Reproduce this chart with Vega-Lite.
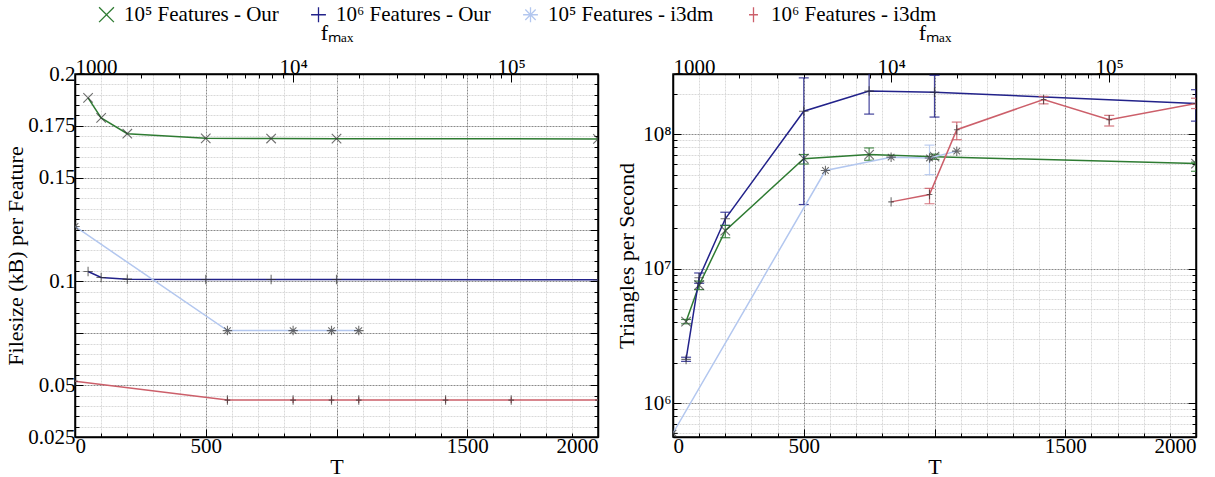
{
  "$schema": "https://vega.github.io/schema/vega-lite/v6.json",
  "background": "white",
  "padding": {"left": 4, "top": 4, "right": 5, "bottom": 0},
  "config": {
    "font": "Liberation Serif",
    "view": {"stroke": "#000", "strokeWidth": 1.5},
    "axis": {
      "labelFont": "Liberation Serif", "titleFont": "Liberation Serif",
      "labelFontSize": 21, "titleFontSize": 22, "titleFontWeight": "normal",
      "labelColor": "#000", "titleColor": "#000", "domainColor": "#000", "tickColor": "#000",
      "domainWidth": 1.5, "tickWidth": 1, "labelOverlap": false, "tickCount": 200
    },
    "legend": {"labelFont": "Liberation Serif", "labelFontSize": 21, "labelColor": "#000"}
  },
  "datasets": {
    "left": [
      {"s": "10⁵ Features - Our", "T": 50, "v": 0.1885},
      {"s": "10⁵ Features - Our", "T": 100, "v": 0.1788},
      {"s": "10⁵ Features - Our", "T": 200, "v": 0.1712},
      {"s": "10⁵ Features - Our", "T": 500, "v": 0.1690},
      {"s": "10⁵ Features - Our", "T": 750, "v": 0.1689},
      {"s": "10⁵ Features - Our", "T": 1000, "v": 0.1688},
      {"s": "10⁵ Features - Our", "T": 2000, "v": 0.1687},
      {"s": "10⁶ Features - Our", "T": 50, "v": 0.1048},
      {"s": "10⁶ Features - Our", "T": 100, "v": 0.1019},
      {"s": "10⁶ Features - Our", "T": 200, "v": 0.1011},
      {"s": "10⁶ Features - Our", "T": 500, "v": 0.1009},
      {"s": "10⁶ Features - Our", "T": 750, "v": 0.1009},
      {"s": "10⁶ Features - Our", "T": 1000, "v": 0.1009},
      {"s": "10⁶ Features - Our", "T": 2000, "v": 0.1008},
      {"s": "10⁵ Features - i3dm", "f": 1000, "v": 0.1265},
      {"s": "10⁵ Features - i3dm", "f": 5000, "v": 0.0763},
      {"s": "10⁵ Features - i3dm", "f": 10000, "v": 0.0763},
      {"s": "10⁵ Features - i3dm", "f": 15000, "v": 0.0763},
      {"s": "10⁵ Features - i3dm", "f": 20000, "v": 0.0763},
      {"s": "10⁶ Features - i3dm", "f": 1000, "v": 0.0519},
      {"s": "10⁶ Features - i3dm", "f": 5000, "v": 0.0428, "lo": 0.0414, "hi": 0.0442},
      {"s": "10⁶ Features - i3dm", "f": 10000, "v": 0.0428, "lo": 0.0414, "hi": 0.0442},
      {"s": "10⁶ Features - i3dm", "f": 15000, "v": 0.0428, "lo": 0.0414, "hi": 0.0442},
      {"s": "10⁶ Features - i3dm", "f": 20000, "v": 0.0428, "lo": 0.0414, "hi": 0.0442},
      {"s": "10⁶ Features - i3dm", "f": 50000, "v": 0.0428, "lo": 0.0414, "hi": 0.0442},
      {"s": "10⁶ Features - i3dm", "f": 100000, "v": 0.0428, "lo": 0.0414, "hi": 0.0442},
      {"s": "10⁶ Features - i3dm", "f": 250000, "v": 0.0428}
    ],
    "right": [
      {"s": "10⁵ Features - Our", "T": 50, "v": 4050000, "lo": 3900000, "hi": 4200000},
      {"s": "10⁵ Features - Our", "T": 100, "v": 7570000, "lo": 7000000, "hi": 8100000},
      {"s": "10⁵ Features - Our", "T": 200, "v": 19200000, "lo": 17000000, "hi": 21000000},
      {"s": "10⁵ Features - Our", "T": 500, "v": 65700000, "lo": 60000000, "hi": 70600000},
      {"s": "10⁵ Features - Our", "T": 750, "v": 70600000, "lo": 64000000, "hi": 79000000},
      {"s": "10⁵ Features - Our", "T": 1000, "v": 68000000, "lo": 65000000, "hi": 71000000},
      {"s": "10⁵ Features - Our", "T": 2000, "v": 60500000, "lo": 53000000, "hi": 62000000},
      {"s": "10⁶ Features - Our", "T": 50, "v": 2120000, "lo": 2050000, "hi": 2200000},
      {"s": "10⁶ Features - Our", "T": 100, "v": 8580000, "lo": 7800000, "hi": 9300000},
      {"s": "10⁶ Features - Our", "T": 200, "v": 23500000, "lo": 21000000, "hi": 26300000},
      {"s": "10⁶ Features - Our", "T": 500, "v": 148000000, "lo": 30000000, "hi": 262000000},
      {"s": "10⁶ Features - Our", "T": 750, "v": 209000000, "lo": 141000000, "hi": 300000000},
      {"s": "10⁶ Features - Our", "T": 1000, "v": 205000000, "lo": 134000000, "hi": 274000000},
      {"s": "10⁶ Features - Our", "T": 2000, "v": 169000000, "lo": 125000000, "hi": 214000000},
      {"s": "10⁵ Features - i3dm", "f": 1000, "v": 600000},
      {"s": "10⁵ Features - i3dm", "f": 5000, "v": 53700000},
      {"s": "10⁵ Features - i3dm", "f": 10000, "v": 67500000},
      {"s": "10⁵ Features - i3dm", "f": 15000, "v": 66600000, "lo": 50000000, "hi": 83000000},
      {"s": "10⁵ Features - i3dm", "f": 20000, "v": 74800000},
      {"s": "10⁶ Features - i3dm", "f": 10000, "v": 31400000},
      {"s": "10⁶ Features - i3dm", "f": 15000, "v": 35600000, "lo": 30400000, "hi": 39500000},
      {"s": "10⁶ Features - i3dm", "f": 20000, "v": 108000000, "lo": 91000000, "hi": 123000000},
      {"s": "10⁶ Features - i3dm", "f": 50000, "v": 181000000, "lo": 168000000, "hi": 191000000},
      {"s": "10⁶ Features - i3dm", "f": 100000, "v": 128000000, "lo": 115000000, "hi": 138000000},
      {"s": "10⁶ Features - i3dm", "f": 250000, "v": 169000000, "lo": 155000000, "hi": 185000000}
    ]
  },
  "bounds": "flush",
  "spacing": 75,
  "resolve": {"scale": {"color": "shared", "shape": "shared"}},
  "hconcat": [
    {
      "width": 523, "height": 363,
      "data": {"name": "left"},
      "resolve": {"scale": {"x": "independent"}, "axis": {"x": "independent", "y": "independent"}},
      "layer": [
        {
          "transform": [{"filter": "isValid(datum.T)"}],
          "layer": [
            {
              "mark": {"type": "line", "strokeWidth": 1.5, "clip": true},
              "encoding": {
                "x": {"field": "T", "type": "quantitative",
                  "scale": {"domain": [0, 2000], "nice": false, "zero": false},
                  "axis": {"orient": "bottom", "title": "T", "labelFlush": true, "labelOverlap": false, "tickCount": 200,
                    "values": [0,100,200,300,400,500,600,700,800,900,1000,1100,1200,1300,1400,1500,1600,1700,1800,1900,2000],
                    "labelExpr": "datum.value == 0 ? '0' : datum.value == 500 ? '500' : datum.value == 1500 ? '1500' : datum.value == 2000 ? '2000' : ''",
                    "grid": true,
                    "gridColor": {"condition": {"test": "datum.value % 500 == 0", "value": "#8a8a8a"}, "value": "#d9d9d9"},
                    "gridDash": [2, 1],
                    "tickSize": {"condition": {"test": "datum.value % 500 == 0", "value": -8}, "value": -4},
                    "labelPadding": 6, "titlePadding": -4}},
                "y": {"field": "v", "type": "quantitative",
                  "scale": {"domain": [0.025, 0.2], "nice": false, "zero": false},
                  "axis": {"orient": "left", "title": "Filesize (kB) per Feature", "labelOverlap": false, "tickCount": 200,
                    "values": [0.025,0.03,0.035,0.04,0.045,0.05,0.055,0.06,0.065,0.07,0.075,0.08,0.085,0.09,0.095,0.1,0.105,0.11,0.115,0.12,0.125,0.13,0.135,0.14,0.145,0.15,0.155,0.16,0.165,0.17,0.175,0.18,0.185,0.19,0.195,0.2],
                    "labelExpr": "abs(datum.value - 0.025) < 0.0001 ? '0.025' : abs(datum.value - 0.05) < 0.0001 ? '0.05' : abs(datum.value - 0.1) < 0.0001 ? '0.1' : abs(datum.value - 0.15) < 0.0001 ? '0.15' : abs(datum.value - 0.175) < 0.0001 ? '0.175' : abs(datum.value - 0.2) < 0.0001 ? '0.2' : ''",
                    "grid": true,
                    "gridColor": {"condition": {"test": "abs(datum.value*40 - round(datum.value*40)) < 0.000001", "value": "#8a8a8a"}, "value": "#d9d9d9"},
                    "gridDash": [2, 1],
                    "tickSize": {"condition": {"test": "abs(datum.value*40 - round(datum.value*40)) < 0.000001", "value": -8}, "value": -4},
                    "labelPadding": 8, "titlePadding": 0}},
                "color": {"field": "s", "type": "nominal",
                  "scale": {"domain": ["10⁵ Features - Our", "10⁶ Features - Our", "10⁵ Features - i3dm", "10⁶ Features - i3dm"],
                    "range": ["#2e7b32", "#22228a", "#b3c7ef", "#cc5f6a"]},
                  "legend": {"title": null, "orient": "none", "direction": "horizontal", "legendX": 21, "legendY": -70,
                    "symbolType": "M-0.6,-1H0.6M0,-1V1M-0.6,1H0.6M-1,0H1", "symbolSize": 220, "symbolStrokeWidth": 1.3,
                    "labelOffset": 7, "columnPadding": 29, "labelLimit": 400}}
              }
            },
            {
              "transform": [{"filter": "isValid(datum.lo)"}],
              "mark": {"type": "rule", "strokeWidth": 1.2, "clip": true},
              "encoding": {"x": {"field": "T", "type": "quantitative"}, "y": {"field": "lo", "type": "quantitative"}, "y2": {"field": "hi"},
                "color": {"field": "s", "type": "nominal", "legend": null}}
            },
            {
              "mark": {"type": "point", "filled": false, "strokeWidth": 1.1, "color": "#333", "size": 90, "clip": true},
              "encoding": {"x": {"field": "T", "type": "quantitative"}, "y": {"field": "v", "type": "quantitative"},
                "shape": {"field": "s", "type": "nominal", "legend": null,
                  "scale": {"domain": ["10⁵ Features - Our", "10⁶ Features - Our", "10⁵ Features - i3dm", "10⁶ Features - i3dm"],
                    "range": ["M-1,-1L1,1M-1,1L1,-1", "M-1,0H1M0,-1V1", "M-1,0H1M0,-1V1M-0.7,-0.7L0.7,0.7M-0.7,0.7L0.7,-0.7", "M-0.6,0H0.6M0,-1V1"]}}}
            }
          ]
        },
        {
          "transform": [{"filter": "isValid(datum.f)"}],
          "layer": [
            {
              "mark": {"type": "line", "strokeWidth": 1.5, "clip": true},
              "encoding": {
                "x": {"field": "f", "type": "quantitative",
                  "scale": {"type": "log", "domain": [1000, 250000], "nice": false},
                  "axis": {"orient": "top", "title": "fₘₐₓ", "labelOverlap": false, "tickCount": 200,
                    "values": [1000,2000,3000,4000,5000,6000,7000,8000,9000,10000,20000,30000,40000,50000,60000,70000,80000,90000,100000,200000],
                    "labelExpr": "datum.value == 1000 ? '1000' : datum.value == 10000 ? '10⁴' : datum.value == 100000 ? '10⁵' : ''",
                    "grid": false,
                    "tickSize": {"condition": {"test": "datum.value == 1000 || datum.value == 10000 || datum.value == 100000", "value": -8}, "value": -4},
                    "labelPadding": 5, "titlePadding": 8}},
                "y": {"field": "v", "type": "quantitative",
                  "axis": {"orient": "right", "title": null, "labels": false, "grid": false, "tickCount": 200,
                    "values": [0.025,0.03,0.035,0.04,0.045,0.05,0.055,0.06,0.065,0.07,0.075,0.08,0.085,0.09,0.095,0.1,0.105,0.11,0.115,0.12,0.125,0.13,0.135,0.14,0.145,0.15,0.155,0.16,0.165,0.17,0.175,0.18,0.185,0.19,0.195,0.2],
                    "tickSize": {"condition": {"test": "abs(datum.value*40 - round(datum.value*40)) < 0.000001", "value": -8}, "value": -4}}},
                "color": {"field": "s", "type": "nominal", "legend": null}
              }
            },
            {
              "transform": [{"filter": "isValid(datum.lo)"}],
              "mark": {"type": "rule", "strokeWidth": 1.2, "clip": true},
              "encoding": {"x": {"field": "f", "type": "quantitative"}, "y": {"field": "lo", "type": "quantitative"}, "y2": {"field": "hi"},
                "color": {"field": "s", "type": "nominal", "legend": null}}
            },
            {
              "mark": {"type": "point", "filled": false, "strokeWidth": 1.1, "color": "#333", "size": 90, "clip": true},
              "encoding": {"x": {"field": "f", "type": "quantitative"}, "y": {"field": "v", "type": "quantitative"},
                "shape": {"field": "s", "type": "nominal", "legend": null}}
            }
          ]
        }
      ]
    },
    {
      "width": 523, "height": 363,
      "data": {"name": "right"},
      "resolve": {"scale": {"x": "independent"}, "axis": {"x": "independent", "y": "independent"}},
      "layer": [
        {
          "transform": [{"filter": "isValid(datum.T)"}],
          "layer": [
            {
              "mark": {"type": "line", "strokeWidth": 1.5, "clip": true},
              "encoding": {
                "x": {"field": "T", "type": "quantitative",
                  "scale": {"domain": [0, 2000], "nice": false, "zero": false},
                  "axis": {"orient": "bottom", "title": "T", "labelFlush": true, "labelOverlap": false, "tickCount": 200,
                    "values": [0,100,200,300,400,500,600,700,800,900,1000,1100,1200,1300,1400,1500,1600,1700,1800,1900,2000],
                    "labelExpr": "datum.value == 0 ? '0' : datum.value == 500 ? '500' : datum.value == 1500 ? '1500' : datum.value == 2000 ? '2000' : ''",
                    "grid": true,
                    "gridColor": {"condition": {"test": "datum.value % 500 == 0", "value": "#8a8a8a"}, "value": "#d9d9d9"},
                    "gridDash": [2, 1],
                    "tickSize": {"condition": {"test": "datum.value % 500 == 0", "value": -8}, "value": -4},
                    "labelPadding": 6, "titlePadding": -4}},
                "y": {"field": "v", "type": "quantitative",
                  "scale": {"type": "log", "domain": [562000, 280000000], "nice": false},
                  "axis": {"orient": "left", "title": "Triangles per Second", "labelOverlap": false, "tickCount": 200,
                    "values": [600000,700000,800000,900000,1000000,2000000,3000000,4000000,5000000,6000000,7000000,8000000,9000000,10000000,20000000,30000000,40000000,50000000,60000000,70000000,80000000,90000000,100000000,200000000],
                    "labelExpr": "datum.value == 1000000 ? '10⁶' : datum.value == 10000000 ? '10⁷' : datum.value == 100000000 ? '10⁸' : ''",
                    "grid": true,
                    "gridColor": {"condition": {"test": "datum.value == 1000000 || datum.value == 10000000 || datum.value == 100000000", "value": "#8a8a8a"}, "value": "#d9d9d9"},
                    "gridDash": [2, 1],
                    "tickSize": {"condition": {"test": "datum.value == 1000000 || datum.value == 10000000 || datum.value == 100000000", "value": -8}, "value": -4},
                    "labelPadding": 10, "titlePadding": 4}},
                "color": {"field": "s", "type": "nominal", "legend": null}
              }
            },
            {
              "transform": [{"filter": "isValid(datum.lo)"}],
              "mark": {"type": "rule", "strokeWidth": 1.2, "opacity": 0.85, "clip": true},
              "encoding": {"x": {"field": "T", "type": "quantitative"}, "y": {"field": "lo", "type": "quantitative"}, "y2": {"field": "hi"},
                "color": {"field": "s", "type": "nominal", "legend": null}}
            },
            {
              "transform": [{"filter": "isValid(datum.lo)"}],
              "mark": {"type": "tick", "orient": "horizontal", "size": 10, "thickness": 1.2, "opacity": 0.85, "clip": true},
              "encoding": {"x": {"field": "T", "type": "quantitative"}, "y": {"field": "lo", "type": "quantitative"},
                "color": {"field": "s", "type": "nominal", "legend": null}}
            },
            {
              "transform": [{"filter": "isValid(datum.hi)"}],
              "mark": {"type": "tick", "orient": "horizontal", "size": 10, "thickness": 1.2, "opacity": 0.85, "clip": true},
              "encoding": {"x": {"field": "T", "type": "quantitative"}, "y": {"field": "hi", "type": "quantitative"},
                "color": {"field": "s", "type": "nominal", "legend": null}}
            },
            {
              "mark": {"type": "point", "filled": false, "strokeWidth": 1.1, "color": "#333", "size": 90, "clip": true},
              "encoding": {"x": {"field": "T", "type": "quantitative"}, "y": {"field": "v", "type": "quantitative"},
                "shape": {"field": "s", "type": "nominal", "legend": null}}
            }
          ]
        },
        {
          "transform": [{"filter": "isValid(datum.f)"}],
          "layer": [
            {
              "mark": {"type": "line", "strokeWidth": 1.5, "clip": true},
              "encoding": {
                "x": {"field": "f", "type": "quantitative",
                  "scale": {"type": "log", "domain": [1000, 250000], "nice": false},
                  "axis": {"orient": "top", "title": "fₘₐₓ", "labelOverlap": false, "tickCount": 200,
                    "values": [1000,2000,3000,4000,5000,6000,7000,8000,9000,10000,20000,30000,40000,50000,60000,70000,80000,90000,100000,200000],
                    "labelExpr": "datum.value == 1000 ? '1000' : datum.value == 10000 ? '10⁴' : datum.value == 100000 ? '10⁵' : ''",
                    "grid": false,
                    "tickSize": {"condition": {"test": "datum.value == 1000 || datum.value == 10000 || datum.value == 100000", "value": -8}, "value": -4},
                    "labelPadding": 5, "titlePadding": 8}},
                "y": {"field": "v", "type": "quantitative",
                  "axis": {"orient": "right", "title": null, "labels": false, "grid": false, "tickCount": 200,
                    "values": [600000,700000,800000,900000,1000000,2000000,3000000,4000000,5000000,6000000,7000000,8000000,9000000,10000000,20000000,30000000,40000000,50000000,60000000,70000000,80000000,90000000,100000000,200000000],
                    "tickSize": {"condition": {"test": "datum.value == 1000000 || datum.value == 10000000 || datum.value == 100000000", "value": -8}, "value": -4}}},
                "color": {"field": "s", "type": "nominal", "legend": null}
              }
            },
            {
              "transform": [{"filter": "isValid(datum.lo)"}],
              "mark": {"type": "rule", "strokeWidth": 1.2, "opacity": 0.85, "clip": true},
              "encoding": {"x": {"field": "f", "type": "quantitative"}, "y": {"field": "lo", "type": "quantitative"}, "y2": {"field": "hi"},
                "color": {"field": "s", "type": "nominal", "legend": null}}
            },
            {
              "transform": [{"filter": "isValid(datum.lo)"}],
              "mark": {"type": "tick", "orient": "horizontal", "size": 10, "thickness": 1.2, "opacity": 0.85, "clip": true},
              "encoding": {"x": {"field": "f", "type": "quantitative"}, "y": {"field": "lo", "type": "quantitative"},
                "color": {"field": "s", "type": "nominal", "legend": null}}
            },
            {
              "transform": [{"filter": "isValid(datum.hi)"}],
              "mark": {"type": "tick", "orient": "horizontal", "size": 10, "thickness": 1.2, "opacity": 0.85, "clip": true},
              "encoding": {"x": {"field": "f", "type": "quantitative"}, "y": {"field": "hi", "type": "quantitative"},
                "color": {"field": "s", "type": "nominal", "legend": null}}
            },
            {
              "mark": {"type": "point", "filled": false, "strokeWidth": 1.1, "color": "#333", "size": 90, "clip": true},
              "encoding": {"x": {"field": "f", "type": "quantitative"}, "y": {"field": "v", "type": "quantitative"},
                "shape": {"field": "s", "type": "nominal", "legend": null}}
            }
          ]
        }
      ]
    }
  ]
}
